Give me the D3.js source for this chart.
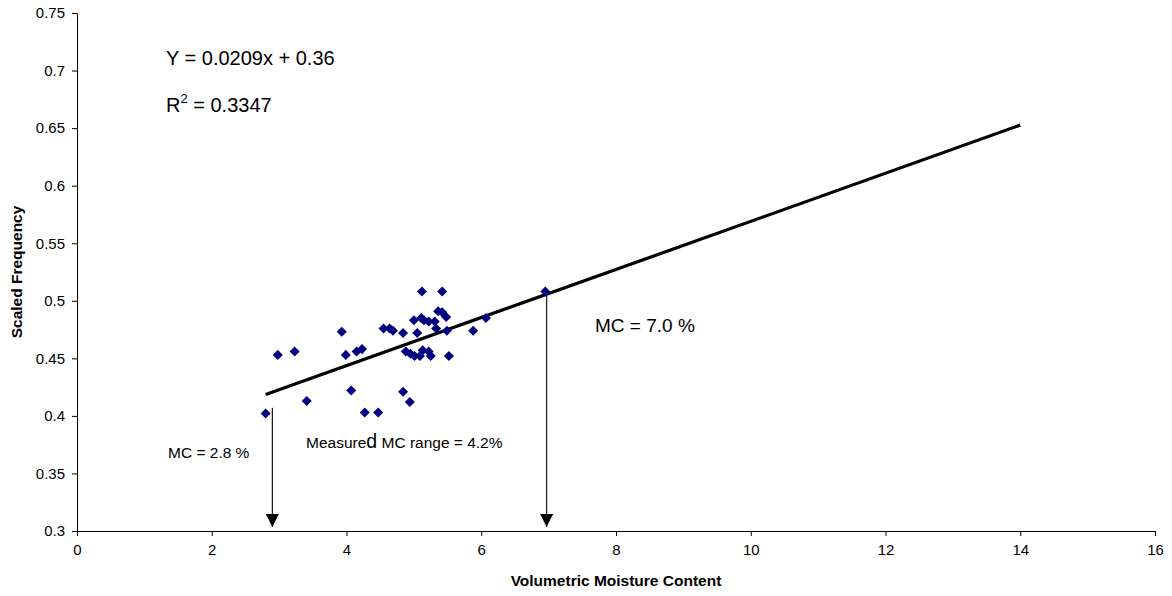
<!DOCTYPE html>
<html>
<head>
<meta charset="utf-8">
<script src="https://cdn.jsdelivr.net/npm/d3@7"></script>
<style>
  body { margin: 0; background: #fff; }
  text { font-family: Arial, "Liberation Sans", sans-serif; fill: #000; }
</style>
</head>
<body>
<div id="chart"></div>
<script>
// measured moisture content vs scaled frequency
const moisture = [2.80, 2.98, 3.23, 3.41, 3.93, 3.99, 4.07, 4.15, 4.23, 4.27, 4.47,
  4.55, 4.64, 4.69, 4.84, 4.84, 4.94, 4.88, 4.95, 5.01, 5.09, 5.13, 5.22, 5.25, 5.52,
  5.00, 5.05, 5.11, 5.15, 5.22, 5.31, 5.33, 5.12, 5.42, 5.36, 5.42, 5.48, 5.49, 5.88,
  6.07, 6.95];
const frequency = [0.402, 0.453, 0.456, 0.413, 0.473, 0.453, 0.422, 0.456, 0.458, 0.403, 0.403,
  0.476, 0.476, 0.474, 0.472, 0.421, 0.412, 0.456, 0.454, 0.452, 0.452, 0.457, 0.456, 0.452, 0.452,
  0.483, 0.472, 0.485, 0.483, 0.482, 0.482, 0.476, 0.508, 0.508, 0.491, 0.490, 0.486, 0.474, 0.474,
  0.485, 0.508];

const slope = 0.0209, intercept = 0.36;
const fitRange = [2.8, 14];

// arrows marking the MC limits (x, y start)
const arrowX = [2.9, 6.97];
const arrowTop = [0.407, 0.508];

const xTicks = [0, 2, 4, 6, 8, 10, 12, 14, 16];
const yTicks = [0.3, 0.35, 0.4, 0.45, 0.5, 0.55, 0.6, 0.65, 0.7, 0.75];

const width = 1172, height = 596;
const margin = {top: 13, right: 17, bottom: 65, left: 77};

const x = d3.scaleLinear().domain([0, 16]).range([margin.left, width - margin.right]);
const y = d3.scaleLinear().domain([0.3, 0.75]).range([height - margin.bottom, margin.top]);

const svg = d3.select("#chart").append("svg")
    .attr("width", width)
    .attr("height", height);

svg.append("defs").append("marker")
    .attr("id", "head")
    .attr("viewBox", "0 0 12 12")
    .attr("refX", 12).attr("refY", 6)
    .attr("markerWidth", 13).attr("markerHeight", 13)
    .attr("markerUnits", "userSpaceOnUse")
    .attr("orient", "auto")
  .append("path")
    .attr("d", "M0,0L12,6L0,12Z")
    .attr("fill", "#000");

// axes
svg.append("g")
    .attr("transform", `translate(0,${y(0.3)})`)
    .call(d3.axisBottom(x).tickValues(xTicks).tickSize(5).tickPadding(8).tickFormat(d3.format("d")))
    .call(g => g.selectAll("text").attr("font-size", 15).attr("font-family", null))
    .call(g => g.selectAll("line, path").attr("stroke", "#000"));

svg.append("g")
    .attr("transform", `translate(${x(0)},0)`)
    .call(d3.axisLeft(y).tickValues(yTicks).tickSize(5).tickPadding(7).tickFormat(d => d3.format("")(+d.toFixed(2))))
    .call(g => g.selectAll("text").attr("font-size", 15).attr("font-family", null))
    .call(g => g.selectAll("line, path").attr("stroke", "#000"));

svg.append("text")
    .attr("x", (x(0) + x(16)) / 2)
    .attr("y", 586)
    .attr("text-anchor", "middle")
    .attr("font-weight", "bold")
    .attr("font-size", 15.5)
    .text("Volumetric Moisture Content");

svg.append("text")
    .attr("transform", `translate(22,${(y(0.3) + y(0.75)) / 2}) rotate(-90)`)
    .attr("text-anchor", "middle")
    .attr("font-weight", "bold")
    .attr("font-size", 15.5)
    .text("Scaled Frequency");

// trend line
svg.append("line")
    .attr("x1", x(fitRange[0])).attr("y1", y(slope * fitRange[0] + intercept))
    .attr("x2", x(fitRange[1])).attr("y2", y(slope * fitRange[1] + intercept))
    .attr("stroke", "#000")
    .attr("stroke-width", 3.2);

// arrows
svg.selectAll("line.arrow")
  .data(arrowX)
  .join("line")
    .attr("class", "arrow")
    .attr("x1", d => x(d)).attr("x2", d => x(d))
    .attr("y1", (d, i) => y(arrowTop[i]))
    .attr("y2", y(0.3) - 4)
    .attr("stroke", "#222")
    .attr("stroke-width", 1.3)
    .attr("marker-end", "url(#head)");

// points
const diamond = d3.symbol().type(d3.symbolDiamond2).size(64);
svg.append("g")
  .selectAll("path")
  .data(moisture.map((m, i) => [m, frequency[i]]))
  .join("path")
    .attr("transform", d => `translate(${x(d[0])},${y(d[1])})`)
    .attr("d", diamond)
    .attr("fill", "#000080");

// annotations
svg.append("text")
    .attr("x", 166).attr("y", 65)
    .attr("font-size", 20)
    .text("Y = 0.0209x + 0.36");

const r2 = svg.append("text")
    .attr("x", 166).attr("y", 112)
    .attr("font-size", 20);
r2.append("tspan").text("R");
r2.append("tspan").attr("font-size", 13).attr("dy", -9).text("2");
r2.append("tspan").attr("dy", 9).text(" = 0.3347");

svg.append("text")
    .attr("x", 595).attr("y", 332)
    .attr("font-size", 19)
    .text("MC = 7.0 %");

svg.append("text")
    .attr("x", 168).attr("y", 458)
    .attr("font-size", 15.5)
    .text("MC = 2.8 %");

const meas = svg.append("text")
    .attr("x", 306).attr("y", 448)
    .attr("font-size", 15.5);
meas.append("tspan").text("Measure");
meas.append("tspan").attr("font-size", 19.5).text("d");
meas.append("tspan").text(" MC range = 4.2%");
</script>
</body>
</html>
